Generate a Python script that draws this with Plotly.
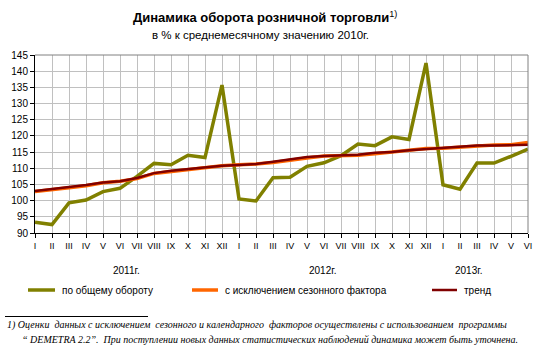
import plotly.graph_objects as go

months = ["I","II","III","IV","V","VI","VII","VIII","IX","X","XI","XII",
          "I","II","III","IV","V","VI","VII","VIII","IX","X","XI","XII",
          "I","II","III","IV","V","VI"]
years = ["2011г.", "2012г.", "2013г."]
year_pos = [5.4, 16.9, 25.5]

total = [93.3, 92.6, 99.3, 100.2, 102.8, 103.8, 107.5, 111.5, 111.1, 114.0, 113.3, 135.7,
         100.5, 99.9, 107.1, 107.2, 110.6, 111.7, 113.9, 117.5, 117.0, 119.7, 118.9, 142.5,
         104.9, 103.5, 111.6, 111.6, 113.7, 115.9]
seasonal = [102.8, 103.5, 104.0, 104.6, 105.5, 106.0, 106.8, 108.4, 109.0, 109.6, 110.1, 110.8,
            111.1, 111.3, 111.8, 112.6, 113.2, 113.8, 113.9, 114.0, 114.5, 115.1, 115.5, 116.1,
            116.2, 116.6, 117.0, 117.2, 117.3, 118.0]
trend = [103.0, 103.6, 104.0, 104.8, 105.6, 106.0, 107.0, 108.5, 109.2, 109.8, 110.3, 110.8,
         111.0, 111.3, 112.0, 112.7, 113.5, 113.8, 114.0, 114.2, 114.8, 115.0, 115.6, 116.0,
         116.3, 116.7, 117.0, 117.0, 117.1, 117.3]
names = ["по общему обороту", "с исключением сезонного фактора", "тренд"]
colors = ["#808000", "#FF6600", "#800000"]

x = list(range(len(months)))
fig = go.Figure()
fig.add_trace(go.Scatter(x=x, y=total, mode="lines", line=dict(color=colors[0], width=3.5), name=names[0]))
fig.add_trace(go.Scatter(x=x, y=seasonal, mode="lines", line=dict(color=colors[1], width=3.5), name=names[1]))
fig.add_trace(go.Scatter(x=x, y=trend, mode="lines", line=dict(color=colors[2], width=2.5), name=names[2]))

fig.update_layout(
    width=545, height=351,
    margin=dict(l=35, r=17, t=55, b=118),
    plot_bgcolor="white", paper_bgcolor="white",
    showlegend=False,
    font=dict(family="Liberation Sans, Arial", size=10, color="black"),
)
fig.update_xaxes(range=[0, 29], tickvals=x, ticktext=months, showgrid=True, gridcolor="#c0c0c0",
                 gridwidth=1, showline=True, linecolor="black", linewidth=1, ticks="outside",
                 ticklen=4, tickcolor="black", tickfont=dict(size=9), mirror=False, zeroline=False)
fig.update_yaxes(range=[90, 145], dtick=5, showgrid=True, gridcolor="#c0c0c0", gridwidth=1,
                 showline=True, linecolor="black", linewidth=1, ticks="outside", ticklen=4,
                 tickcolor="black", tickfont=dict(size=10), zeroline=False)

W, H = 545, 351
pw, ph = 545 - 35 - 17, 351 - 55 - 118
def px(xp):
    return (xp - 35) / pw
def py(yp):
    return (351 - 118 - yp) / ph

shapes = []
# gray top and right frame
shapes.append(dict(type="line", xref="paper", yref="paper", x0=0, x1=1, y0=1, y1=1,
                   line=dict(color="#808080", width=1)))
shapes.append(dict(type="line", xref="paper", yref="paper", x0=1, x1=1, y0=0, y1=1,
                   line=dict(color="#808080", width=1)))

ann = []
ann.append(dict(text="<b>Динамика оборота розничной торговли</b><sup>1)</sup>", x=px(265), y=py(17),
                xref="paper", yref="paper", showarrow=False, font=dict(size=13), xanchor="center", yanchor="middle"))
ann.append(dict(text="в % к среднемесячному значению 2010г.", x=px(260), y=py(35),
                xref="paper", yref="paper", showarrow=False, font=dict(size=11.5), xanchor="center", yanchor="middle"))
for yr, xp in zip(years, year_pos):
    ann.append(dict(text=yr, x=xp, y=py(270), xref="x", yref="paper", showarrow=False,
                    font=dict(size=10), xanchor="center", yanchor="middle"))
# legend
leg = [(28, 55, 60), (192, 218, 223), (432, 457, 462)]
widths = [3.5, 3.5, 2.5]
for (x0, x1, tx), c, n, w in zip(leg, colors, names, widths):
    shapes.append(dict(type="line", xref="paper", yref="paper", x0=px(x0), x1=px(x1),
                       y0=py(290), y1=py(290), line=dict(color=c, width=w)))
    ann.append(dict(text=n, x=px(tx), y=py(290), xref="paper", yref="paper", showarrow=False,
                    font=dict(size=10), xanchor="left", yanchor="middle"))
# footnote
shapes.append(dict(type="line", xref="paper", yref="paper", x0=px(5), x1=px(148),
                   y0=py(316.5), y1=py(316.5), line=dict(color="black", width=1)))
foot1 = "1) Оценки  данных с исключением  сезонного и календарного  факторов осуществлены с использованием  программы"
foot2 = "“ DEMETRA 2.2”.  При поступлении новых данных статистических наблюдений динамика может быть уточнена."
ann.append(dict(text="<i>" + foot1 + "</i>", x=px(5), y=py(325), xref="paper", yref="paper", showarrow=False,
                font=dict(size=10, family="Liberation Serif, Times New Roman"), xanchor="left", yanchor="middle"))
ann.append(dict(text="<i>" + foot2 + "</i>", x=px(20), y=py(339), xref="paper", yref="paper", showarrow=False,
                font=dict(size=10, family="Liberation Serif, Times New Roman"), xanchor="left", yanchor="middle"))

fig.update_layout(shapes=shapes, annotations=ann)
fig.write_html("out.html")
